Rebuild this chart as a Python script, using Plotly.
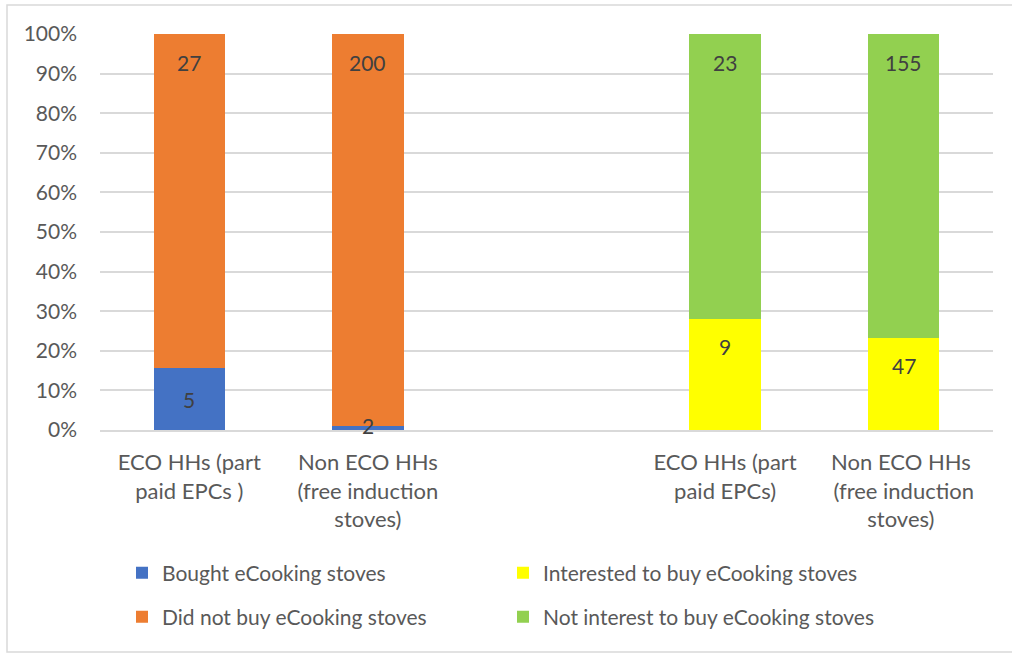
import plotly.graph_objects as go

# Household groups (the empty slot separates the two panels)
categories = [
    "ECO HHs (part<br>paid EPCs )",
    "Non ECO HHs<br>(free induction<br>stoves)",
    " ",
    "ECO HHs (part<br>paid EPCs)",
    "Non ECO HHs <br>(free induction<br>stoves) ",
]

bought = [5, 2, None, None, None]
did_not_buy = [27, 200, None, None, None]
interested = [None, None, None, 9, 47]
not_interested = [None, None, None, 23, 155]

series_names = [
    "Bought eCooking stoves",
    "Interested to buy eCooking stoves",
    "Did not buy eCooking stoves",
    "Not interest to buy eCooking stoves",
]
series_colors = ["#4472C4", "#FFFF00", "#ED7D31", "#92D050"]
y_ticks = [0, 10, 20, 30, 40, 50, 60, 70, 80, 90, 100]
y_tick_labels = [f"{v}%" for v in y_ticks]

W, H = 1012, 653
ML, MR, MT, MB = 100, 19, 34, 223
FONT = "Lato, Carlito, Calibri, sans-serif"
TEXT = "#595959"
LABEL = "#404040"

fig = go.Figure()
series = [bought, interested, did_not_buy, not_interested]
legends = ["legend", "legend", "legend2", "legend2"]
for vals, name, color, lg in zip(series, series_names, series_colors, legends):
    fig.add_trace(go.Bar(
        x=categories, y=vals, name=name,
        marker=dict(color=color, line=dict(width=0)),
        legend=lg,
    ))

# Value labels: bottom segment of the left pair centred, all others near the segment top
annotations = []
for cat, lo_a, hi_a, lo_b, hi_b in zip(categories, bought, did_not_buy, interested, not_interested):
    if lo_a is not None:
        lo, hi, centred = lo_a, hi_a, True
    elif lo_b is not None:
        lo, hi, centred = lo_b, hi_b, False
    else:
        continue
    total = lo + hi
    lo_pct = lo / total * 100
    if centred:
        annotations.append(dict(x=cat, y=lo_pct / 2, text=str(lo), yshift=3 if lo_pct < 5 else 0))
    else:
        annotations.append(dict(x=cat, y=lo_pct, text=str(lo), yshift=-28))
    annotations.append(dict(x=cat, y=100, text=str(hi), yshift=-28))
for a in annotations:
    a.update(xref="x", yref="y", showarrow=False,
             font=dict(family=FONT, size=21, color=LABEL),
             xanchor="center", yanchor="middle")

pw = W - ML - MR
ph = H - MB - MT

legend_common = dict(
    orientation="h", xanchor="left", yanchor="middle",
    entrywidth=336, entrywidthmode="pixels",
    itemwidth=30,
    font=dict(family=FONT, size=21, color=TEXT),
    bgcolor="rgba(0,0,0,0)", itemclick=False,
    traceorder="normal",
)

fig.update_layout(
    width=W, height=H,
    margin=dict(l=ML, r=MR, t=MT, b=MB, autoexpand=False),
    paper_bgcolor="white", plot_bgcolor="white",
    barmode="stack", barnorm="percent", bargap=0.6,
    font=dict(family=FONT, size=21, color=TEXT),
    legend=dict(x=(122 - ML) / pw, y=(H - MB - 573) / ph, **legend_common),
    legend2=dict(x=(122 - ML) / pw, y=(H - MB - 617) / ph, **legend_common),
    xaxis=dict(
        showline=True, linecolor="#D9D9D9", linewidth=1.5,
        ticks="", ticklabelstandoff=12, automargin=False,
        tickfont=dict(family=FONT, size=22, color=TEXT),
        fixedrange=True,
    ),
    yaxis=dict(
        range=[0, 100], tickvals=y_ticks, ticktext=y_tick_labels,
        showgrid=True, gridcolor="#D9D9D9", gridwidth=1.5,
        zeroline=False, ticks="", ticklabelstandoff=22, automargin=False,
        tickfont=dict(family=FONT, size=21, color=TEXT),
        fixedrange=True,
    ),
    annotations=annotations,
    showlegend=True,
)

# Outer frame around the whole chart
fig.add_shape(
    type="rect", xref="paper", yref="paper",
    x0=(7 - ML) / pw, x1=(W + 4 - ML) / pw,
    y0=(H - MB - 652) / ph, y1=(H - MB - 5) / ph,
    line=dict(color="#D9D9D9", width=1.5), fillcolor="rgba(0,0,0,0)",
    layer="below",
)

fig.write_html("out.html")
